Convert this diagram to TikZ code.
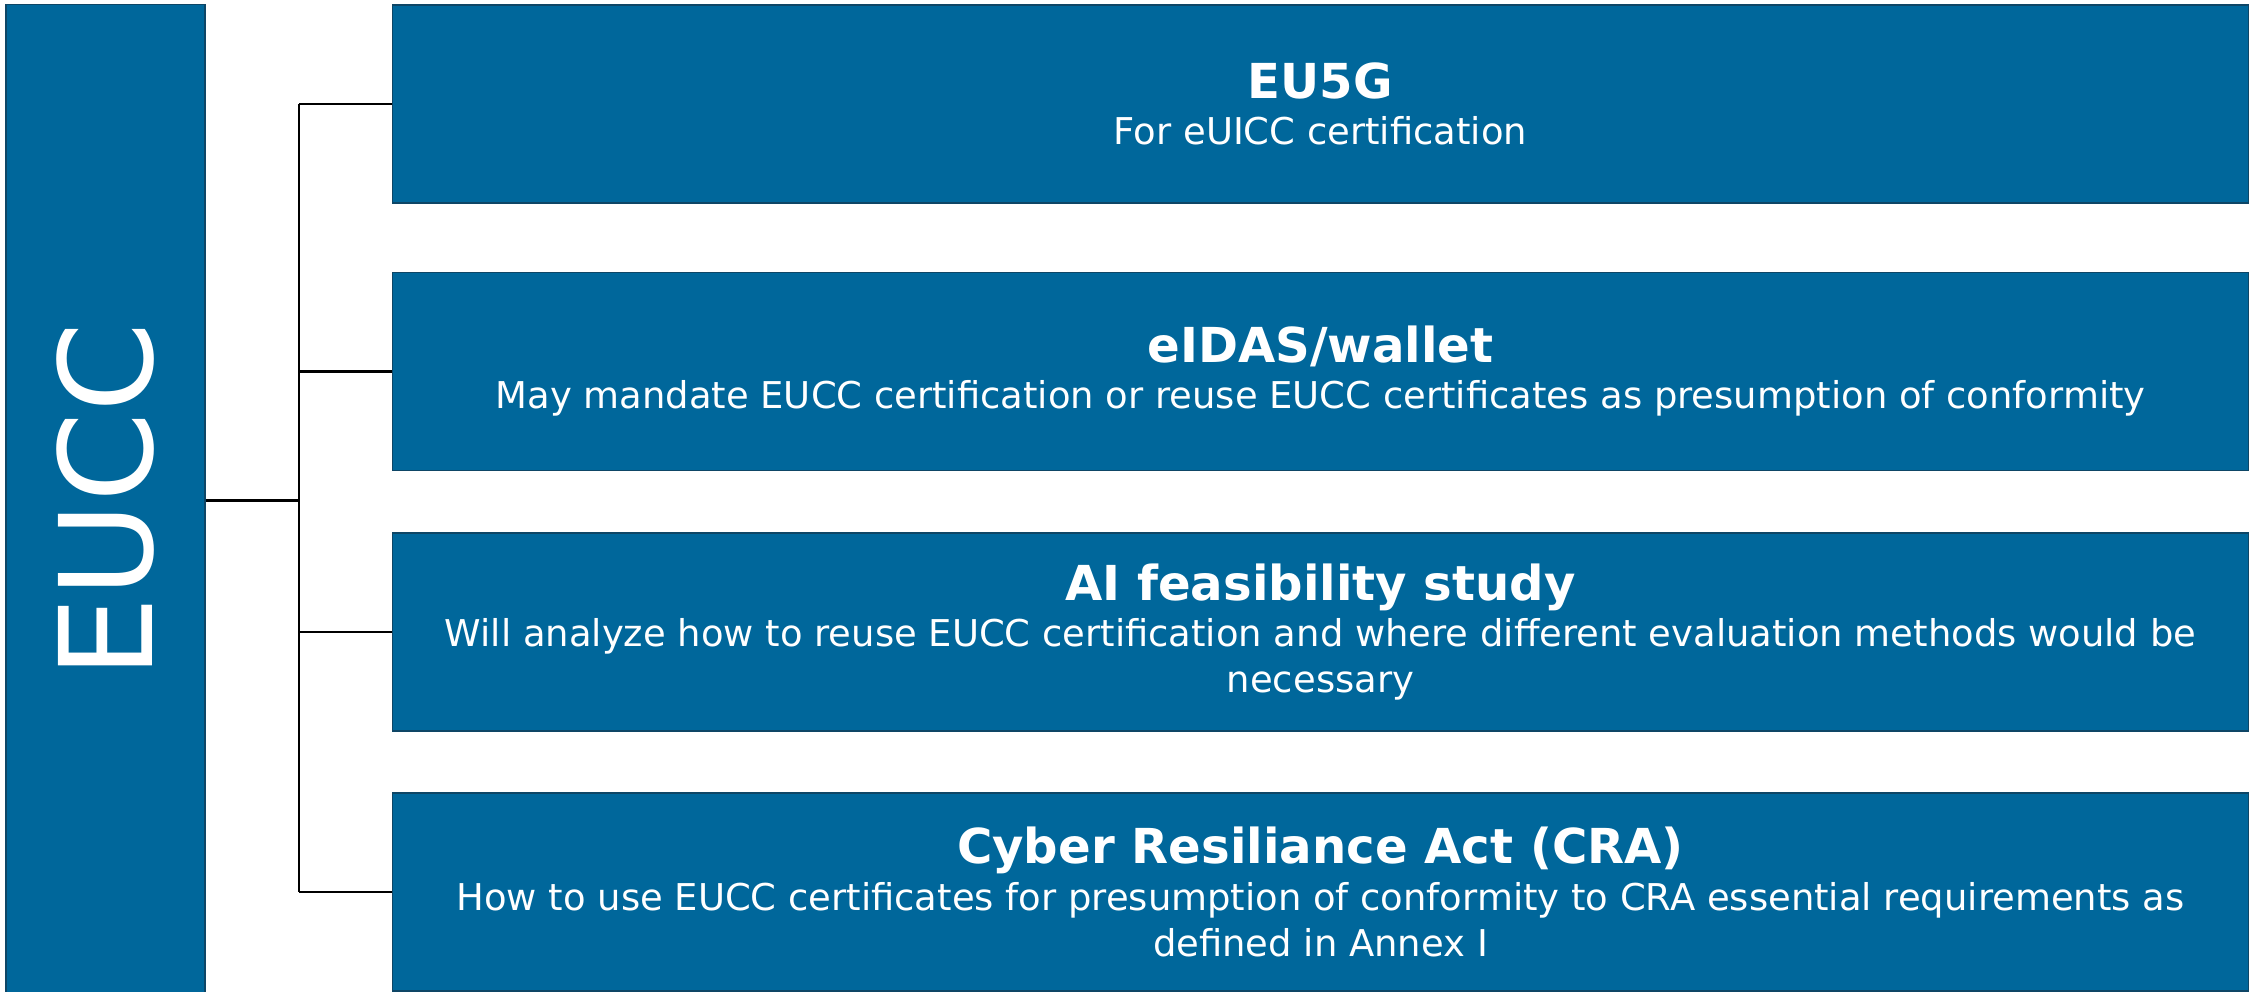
\documentclass[tikz,border=0pt]{standalone}
\usepackage{fontspec}
\setmainfont{DejaVu Sans}
\usetikzlibrary{calc}

\definecolor{euccblue}{RGB}{0,103,155}
\definecolor{euccedge}{RGB}{14,70,102}
\newcommand{\boxtitle}[1]{{\fontsize{13.7}{13.1}\selectfont\bfseries #1}}

\begin{document}
\begin{tikzpicture}[x=0.01cm,y=0.01cm,
	itembox/.style={draw=euccedge,fill=euccblue,line width=0.4pt,text=white,align=center,
		minimum width=18.55cm,minimum height=1.98cm,inner sep=0pt,
		font=\fontsize{10.5}{13.1}\selectfont},
	rootbox/.style={draw=euccedge,fill=euccblue,line width=0.4pt,text=white,rotate=90,
		minimum width=9.91cm,minimum height=1.99cm,inner sep=0pt,
		font=\fontsize{36.7}{40}\selectfont},
	branch/.style={line width=0.6pt,draw=black}]

\useasboundingbox (0,0) rectangle (2255,991);

\node (eucc) at (105.5,490.5) [rootbox] {EUCC};

\node (box1) at (1320.5,887) [itembox]
	{\boxtitle{EU5G}\\For eUICC certification};
\node (box2) at (1320.5,619.5) [itembox]
	{\boxtitle{eIDAS/wallet}\\May mandate EUCC certification or reuse EUCC certificates as presumption of conformity};
\node (box3) at (1320.5,359) [itembox]
	{\boxtitle{AI feasibility study}\\Will analyze how to reuse EUCC certification and where different evaluation methods would be\\necessary};
\node (box4) at (1320.5,99) [itembox]
	{\boxtitle{Cyber Resiliance Act (CRA)}\\How to use EUCC certificates for presumption of conformity to CRA essential requirements as\\defined in Annex I};

\coordinate (trunk) at (299,0);
\draw[branch] (eucc.south) -- (eucc.south -| trunk);
\draw[branch] (box1.west -| trunk) -- (box4.west -| trunk);
\foreach \i in {1,...,4}
	\draw[branch] (box\i.west -| trunk) -- (box\i.west);

\end{tikzpicture}
\end{document}
